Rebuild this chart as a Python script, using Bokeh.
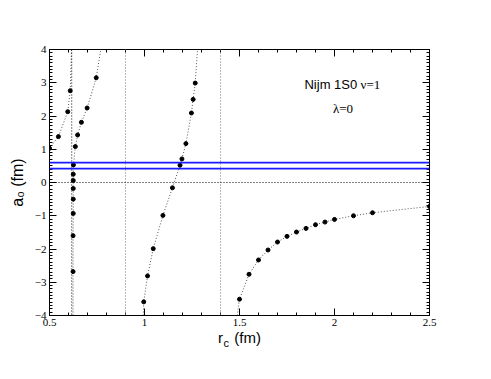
import numpy as np
from bokeh.plotting import figure
from bokeh.models import (Span, Label, LinearAxis, FixedTicker, SingleIntervalTicker,
                          CustomJSTickFormatter, Title)
from bokeh.embed import file_html
from bokeh.resources import INLINE

# ---- data ----
s1_x = [0.500, 0.547, 0.596, 0.609]
s1_y = [1.03, 1.38, 2.13, 2.76]
s1_line_x = [0.500, 0.547, 0.596, 0.609, 0.616]
s1_line_y = [1.03, 1.38, 2.13, 2.76, 4.0]

s2_x = [0.624, 0.624, 0.625, 0.625, 0.625, 0.625, 0.625, 0.626, 0.636, 0.648, 0.668, 0.698, 0.746]
s2_y = [-2.68, -1.60, -0.93, -0.50, -0.18, 0.06, 0.25, 0.53, 1.08, 1.43, 1.81, 2.24, 3.15]
s2_line_x = [0.624] + s2_x + [0.770]
s2_line_y = [-4.0] + s2_y + [4.0]

s3_x = [0.996, 1.016, 1.046, 1.097, 1.147, 1.187, 1.197, 1.218, 1.247, 1.256, 1.267]
s3_y = [-3.59, -2.81, -1.99, -0.99, -0.16, 0.52, 0.71, 1.17, 2.09, 2.50, 2.99]
s3_line_x = [0.994] + s3_x + [1.279]
s3_line_y = [-4.0] + s3_y + [4.0]

s4_x = [1.50, 1.55, 1.60, 1.65, 1.70, 1.75, 1.80, 1.85, 1.90, 1.95, 2.00, 2.10, 2.20, 2.50]
s4_y = [-3.51, -2.76, -2.33, -2.03, -1.79, -1.62, -1.49, -1.38, -1.27, -1.19, -1.11, -1.00, -0.91, -0.72]
s4_line_x = [1.488] + s4_x
s4_line_y = [-4.0] + s4_y

asymptotes = [0.617, 0.9, 1.4]
band_lines = [0.42, 0.60]

x_ticks = [0.5, 1.0, 1.5, 2.0, 2.5]
x_tick_labels = ["0.5", "1", "1.5", "2", "2.5"]

NB = "\u00a0"

# ---- figure ----
p = figure(frame_width=380, frame_height=266, x_range=(0.5, 2.5), y_range=(-4, 4),
           output_backend="svg", toolbar_location=None,
           min_border_left=49, min_border_top=49, min_border_right=46, min_border_bottom=45)
p.grid.visible = False
p.outline_line_color = "black"

xminor = list(np.round(np.arange(0.5, 2.5001, 0.1), 3))
xt = FixedTicker(ticks=x_ticks, minor_ticks=xminor)
yt = SingleIntervalTicker(interval=1, num_minor_ticks=10)

def style_axis(ax, labels=True):
    ax.axis_line_color = "black"
    ax.major_tick_in = 7
    ax.major_tick_out = 0
    ax.minor_tick_in = 3
    ax.minor_tick_out = 0
    ax.major_tick_line_color = "black"
    ax.minor_tick_line_color = "black"
    ax.major_label_text_font = "Liberation Serif"
    ax.major_label_text_font_size = "11px"
    ax.major_label_text_color = "black"
    ax.major_label_standoff = 3
    ax.axis_label_text_font = "Liberation Sans"
    ax.axis_label_text_font_style = "normal"
    ax.axis_label_text_color = "black"
    if not labels:
        ax.formatter = CustomJSTickFormatter(code="return ''")

p.xaxis.ticker = xt
p.xaxis.major_label_overrides = {t: l for t, l in zip(x_ticks, x_tick_labels)}
p.yaxis.ticker = yt
style_axis(p.xaxis[0])
style_axis(p.yaxis[0])
p.xaxis.axis_label = "r" + NB * 2 + "\u2009(fm)"
p.xaxis.axis_label_text_font_size = "15px"
p.xaxis.axis_label_standoff = 0
p.yaxis.axis_label = "a\u2080 (fm)"
p.yaxis.axis_label_text_font_size = "16px"
p.yaxis.axis_label_standoff = 6

p.add_layout(Title(text="c", align="left", offset=174, vertical_align="top", standoff=-24,
                   text_font="Liberation Sans", text_font_size="11px",
                   text_font_style="normal", text_color="black"), "below")

top = LinearAxis(ticker=xt)
style_axis(top, labels=False)
p.add_layout(top, "above")
right = LinearAxis(ticker=yt)
style_axis(right, labels=False)
p.add_layout(right, "right")

# reference lines
for i, xv in enumerate(asymptotes):
    p.add_layout(Span(location=xv, dimension="height", line_dash="1 2",
                      line_color="black" if i == 0 else "#777777", line_width=1))
p.add_layout(Span(location=0, dimension="width", line_dash="1 2", line_color="black", line_width=1))
for yv in band_lines:
    p.add_layout(Span(location=yv, dimension="width", line_color="#1a1aff", line_width=1.8))

# curves
for lx, ly, px, py in [(s1_line_x, s1_line_y, s1_x, s1_y),
                       (s2_line_x, s2_line_y, s2_x, s2_y),
                       (s3_line_x, s3_line_y, s3_x, s3_y),
                       (s4_line_x, s4_line_y, s4_x, s4_y)]:
    p.line(lx, ly, line_dash="1 2", line_color="#555555", line_width=1)
    p.scatter(px, py, size=4, color="black")

# annotations
p.add_layout(Label(x=1.842, y=2.94, text="Nijm 1S0", text_font="Liberation Sans",
                   text_font_size="13px", text_baseline="alphabetic", text_align="left",
                   text_color="black"))
p.add_layout(Label(x=2.137, y=2.94, text="ν=1", text_font="Liberation Serif",
                   text_font_size="13px", text_baseline="alphabetic", text_align="left",
                   text_color="black"))
p.add_layout(Label(x=2.045, y=2.23, text="λ=0", text_font="Liberation Serif",
                   text_font_size="13px", text_baseline="alphabetic", text_align="center",
                   text_color="black"))

open("out.html", "w").write(file_html(p, INLINE))
